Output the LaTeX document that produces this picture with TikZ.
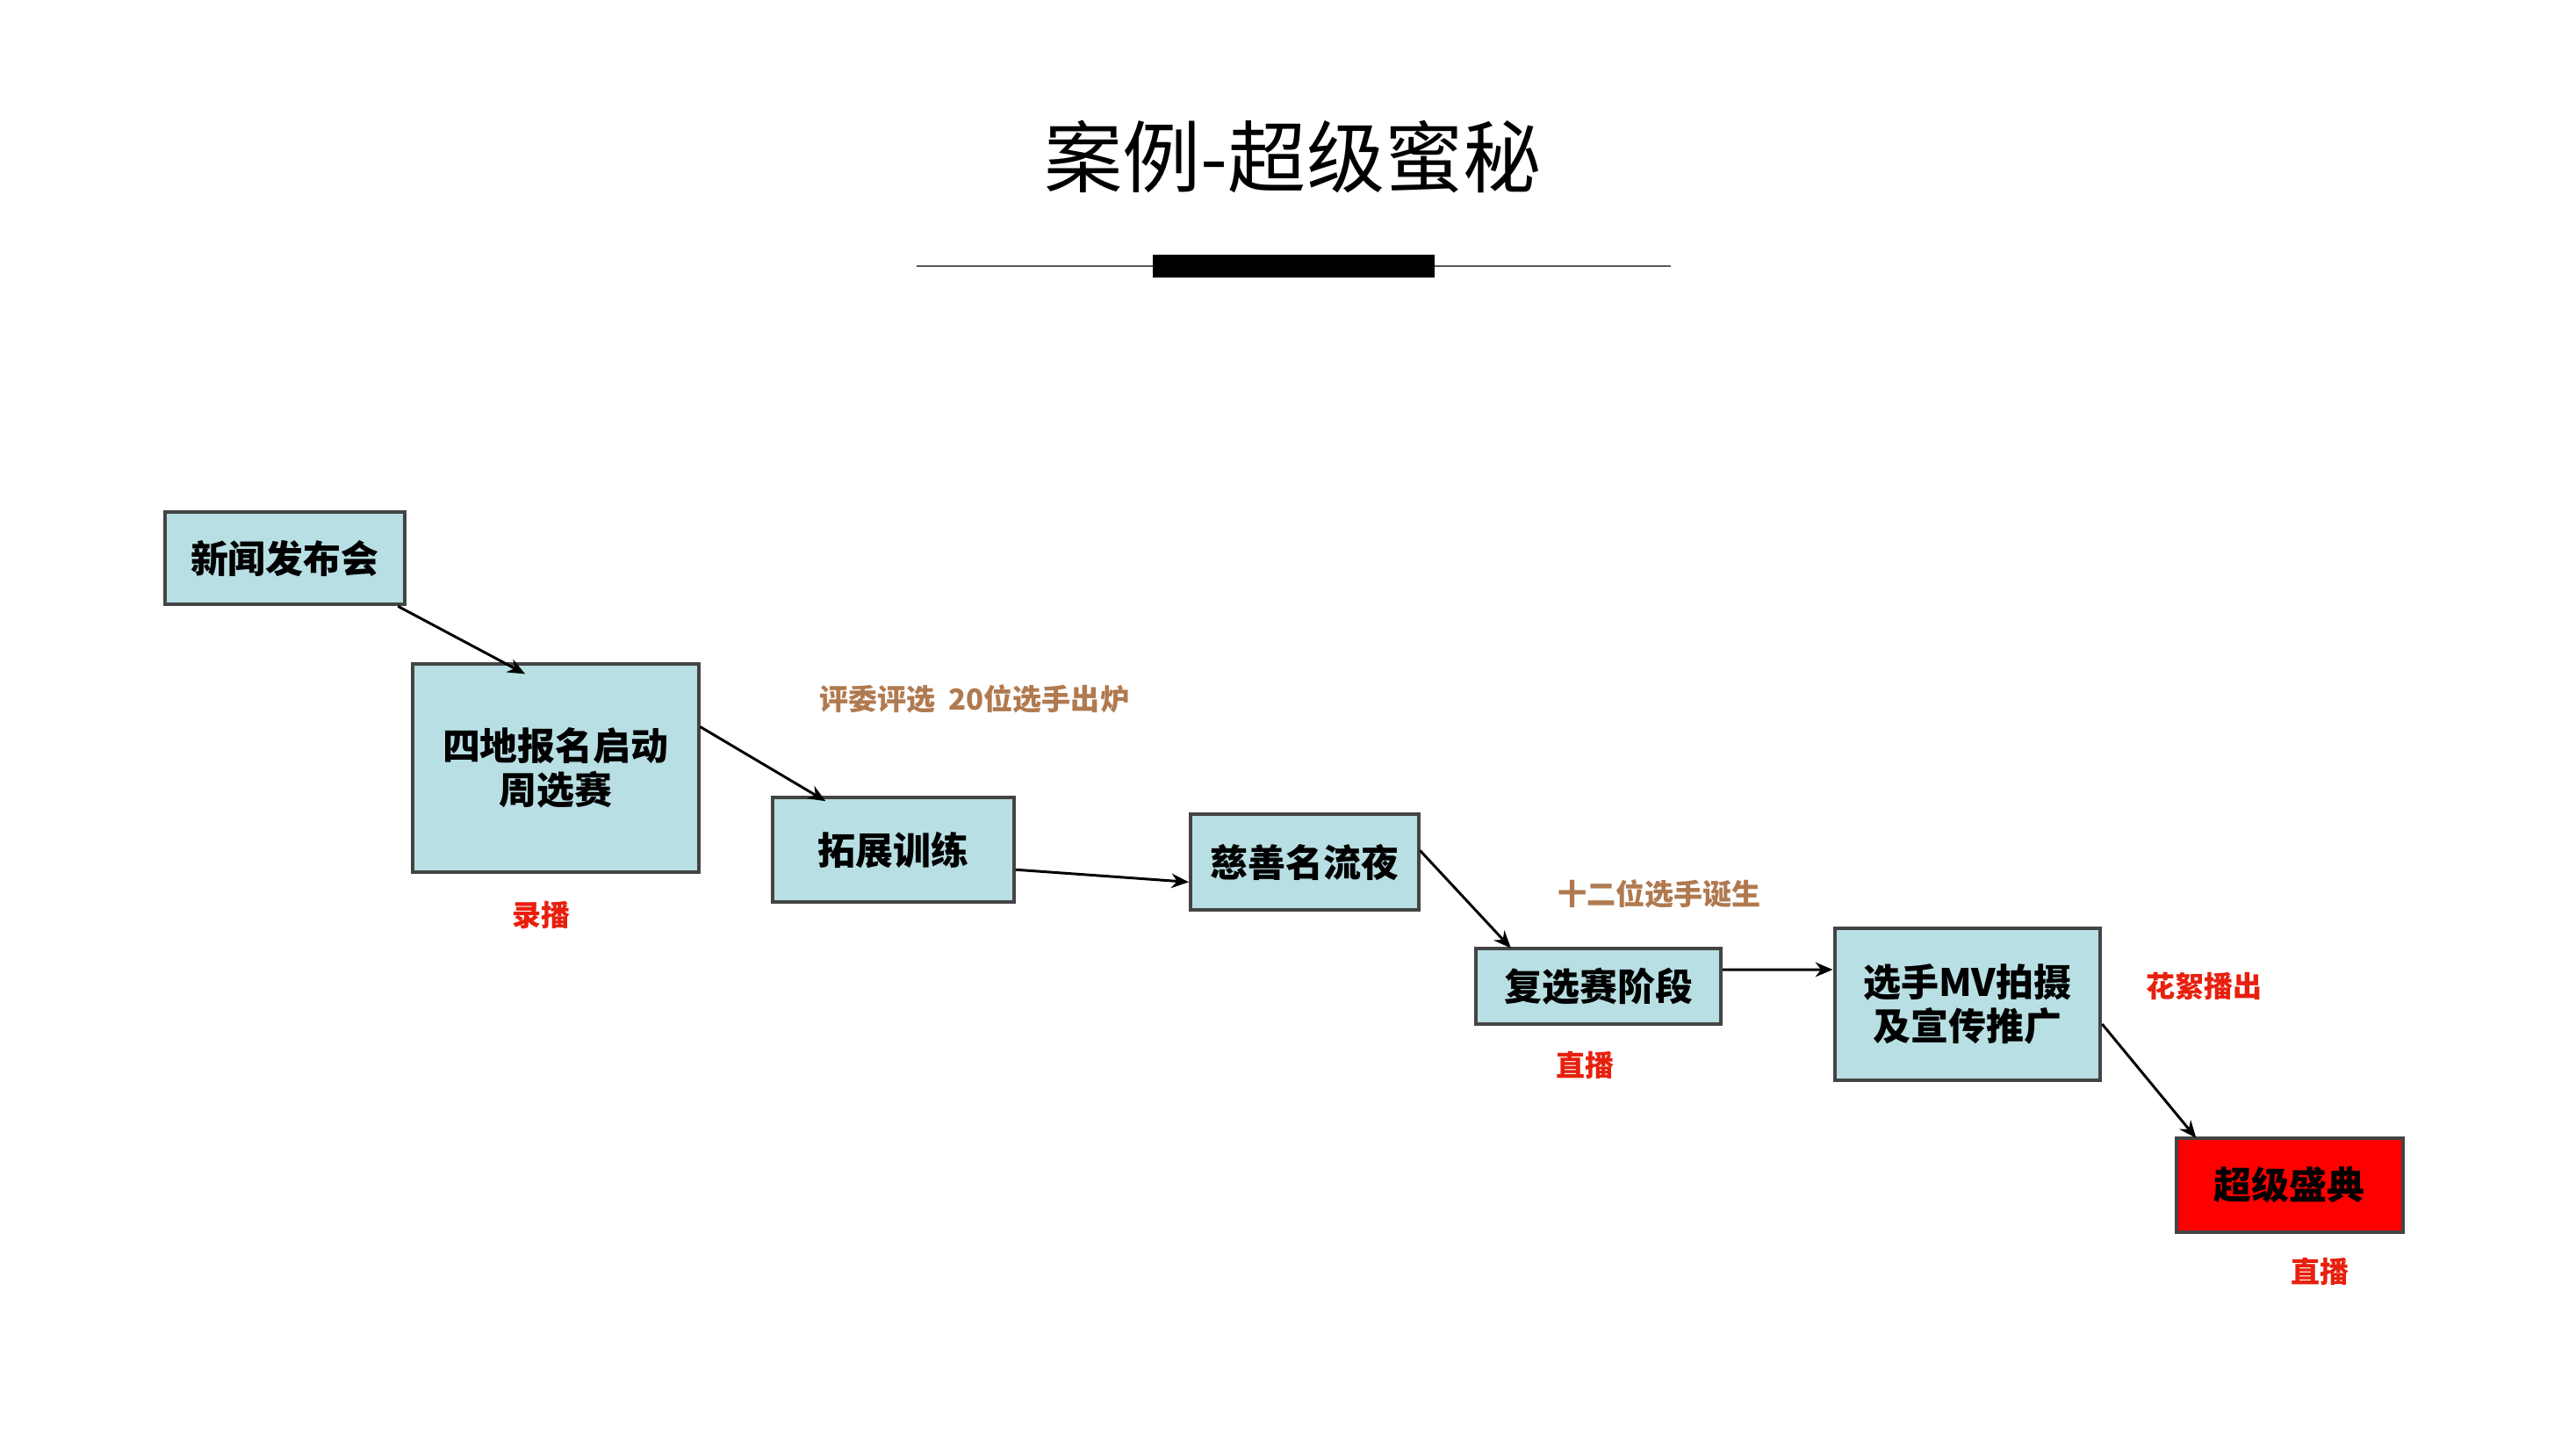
\documentclass[tikz,border=0pt]{standalone}
\usepackage{fontspec}
\setmainfont{Noto Sans CJK SC}
\newfontfamily\cjk{Noto Sans CJK SC}
\usetikzlibrary{arrows.meta}
\definecolor{boxfill}{HTML}{B8DFE3}
\definecolor{boxline}{HTML}{444444}
\definecolor{brownlab}{HTML}{B07A50}
\definecolor{redlab}{HTML}{E8200E}
\begin{document}
\begin{tikzpicture}[x=0.02cm,y=-0.02cm,
  stagebox/.style={draw=boxline,line width=1.2pt,fill=boxfill,font=\cjk\bfseries\fontsize{13}{15}\selectfont,align=center,inner sep=0pt},
  conn/.style={-{Stealth[length=6pt,width=5pt]},line width=0.9pt,black},
  brownl/.style={text=brownlab,font=\cjk\bfseries\fontsize{10}{12}\selectfont},
  redl/.style={text=redlab,font=\cjk\bfseries\fontsize{10}{12}\selectfont}]
\useasboundingbox (0,0) rectangle (1560,877.5);
\node (title) at (783,95) {\fontsize{27}{30}\selectfont 案例-超级蜜秘};
\coordinate (la) at (555,161); \coordinate (lb) at (1012,161);
\draw[line width=0.5pt,gray!70!black] (la) -- (lb);
\node[fill=black,minimum width=171*0.02cm,minimum height=14*0.02cm,inner sep=0] (bar) at (783.5,161) {};
\node[stagebox,minimum width=145*0.02cm,minimum height=56*0.02cm] (b1) at (172.5,338) {新闻发布会};
\node[stagebox,minimum width=173*0.02cm,minimum height=126*0.02cm] (b2) at (336.5,465) {四地报名启动\\周选赛};
\node[stagebox,minimum width=146*0.02cm,minimum height=63*0.02cm] (b3) at (541,514.5) {拓展训练};
\node[stagebox,minimum width=138*0.02cm,minimum height=58*0.02cm] (b4) at (790,522) {慈善名流夜};
\node[stagebox,minimum width=148*0.02cm,minimum height=46*0.02cm] (b5) at (968,597) {复选赛阶段};
\node[stagebox,minimum width=161*0.02cm,minimum height=92*0.02cm] (b6) at (1191.5,608) {选手MV拍摄\\及宣传推广};
\node[stagebox,fill=red,minimum width=137*0.02cm,minimum height=57*0.02cm] (b7) at (1386.5,717.5) {超级盛典};
\coordinate (e2) at (318,408); \coordinate (e3) at (500,485);
\coordinate (e5) at (915,574); \coordinate (e7) at (1330,689);
\draw[conn] (b1.south east) ++(-5,0) -- (e2);
\draw[conn] (b2.east) ++(0,-25) -- (e3);
\draw[conn] (b3.east) ++(0,12) -- ([yshift=-0.24cm]b4.west);
\draw[conn] (b4.east) ++(0,-7) -- (e5);
\draw[conn] ([yshift=0.2cm]b5.east) -- ([yshift=0.42cm]b6.west);
\draw[conn] ([yshift=-0.24cm]b6.east) -- (e7);
\node[brownl] (l1) at (590,423) {评委评选\ \ 20位选手出炉};
\node[redl] (l2) at (328,554) {录播};
\node[brownl] (l3) at (1005,541) {十二位选手诞生};
\node[redl] (l4) at (960,645) {直播};
\node[redl] (l5) at (1335,597) {花絮播出};
\node[redl] (l6) at (1405,770) {直播};
\end{tikzpicture}
\end{document}
